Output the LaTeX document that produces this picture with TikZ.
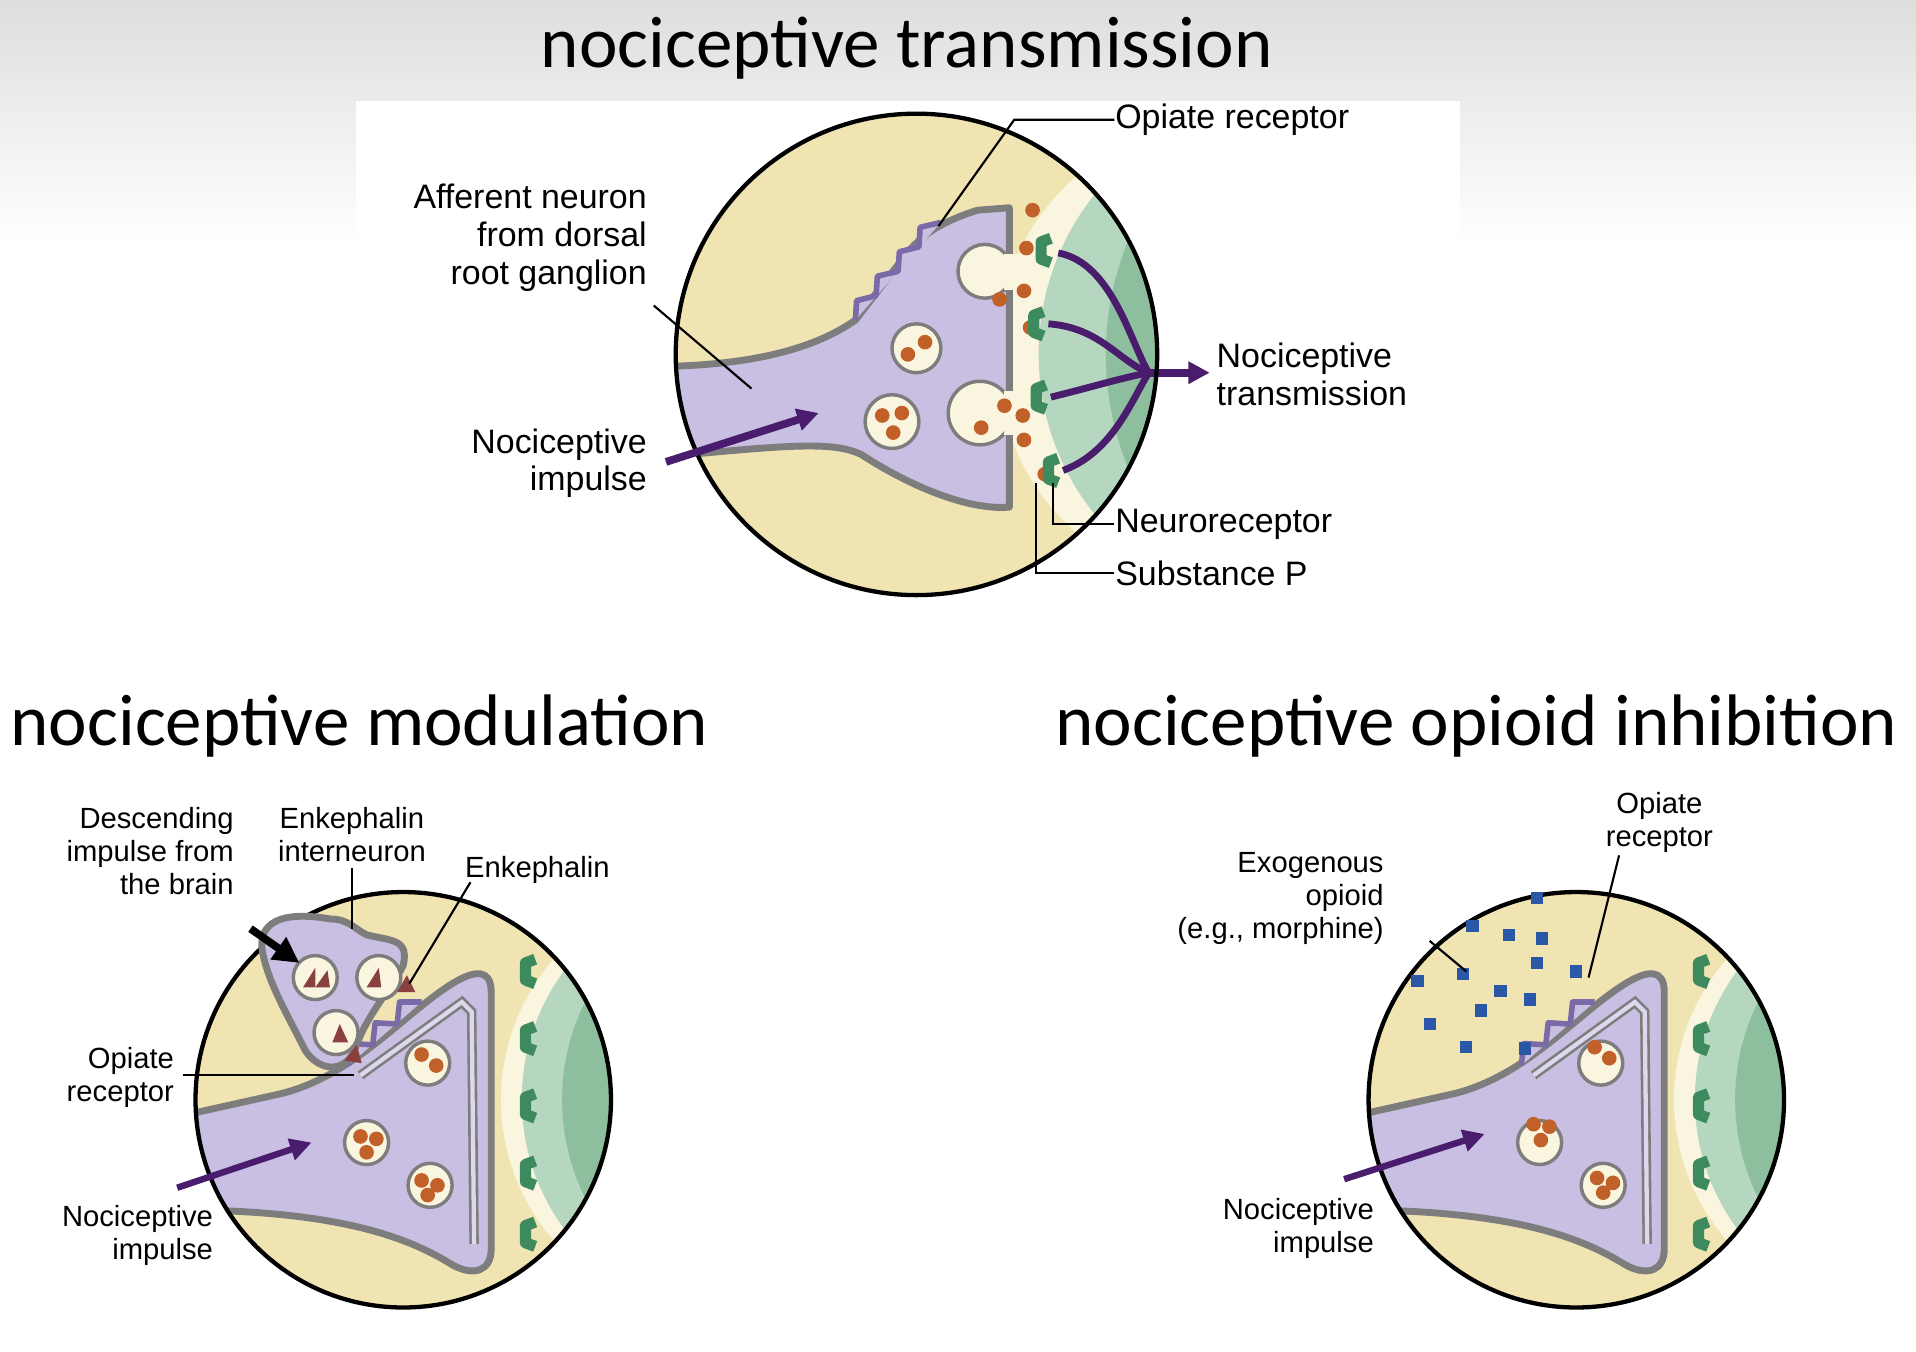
\documentclass[tikz,border=0pt]{standalone}
\usepackage{fontspec}
\setmainfont{Liberation Sans}
\newfontfamily\titlef{Carlito}
\usetikzlibrary{arrows.meta}
\definecolor{cream}{HTML}{F1E4B3}
\definecolor{lcream}{HTML}{FAF5DF}
\definecolor{purp}{HTML}{C8BFE2}
\definecolor{outl}{HTML}{7D7D7D}
\definecolor{gl}{HTML}{B5D7BF}
\definecolor{gd}{HTML}{8DBF9F}
\definecolor{recg}{HTML}{3D8A5F}
\definecolor{dotc}{HTML}{C2602A}
\definecolor{dpurp}{HTML}{4A1C6E}
\definecolor{tri}{HTML}{8B4040}
\definecolor{blu}{HTML}{2B58A6}
\definecolor{opic}{HTML}{7A6AA8}
\tikzset{
 ttl/.style={font=\titlef\fontsize{17}{20}\selectfont, inner sep=0},
 lab/.style={font=\fontsize{7.9}{8.8}\selectfont, inner sep=0},
 slab/.style={font=\fontsize{6.8}{7.7}\selectfont, inner sep=0},
 lead/.style={black, line width=0.5pt},
 neur/.style={fill=purp, draw=outl, line width=1.6pt, line join=round},
 ves/.style={fill=lcream, draw=outl, line width=0.8pt},
 rec/.style={draw=recg, line width=2.6pt, line join=round},
 opi/.style={draw=opic, fill=purp, line width=1.3pt, line join=round},
 imp/.style={dpurp, line width=1.5pt, -{Triangle[length=5pt,width=5pt]}},
}
\newcommand\dt[1]{\fill[dotc] #1 circle (6);}
\newcommand\rc[2]{\draw[rec] (#1+8,#2-10) -- (#1,#2-7) -- (#1,#2+7) -- (#1+8,#2+10);}
\newcommand\bsq[2]{\fill[blu] (#1-5,#2-5) rectangle (#1+5,#2+5);}
\newcommand\bottomsyn{%
 \begin{scope}
  \clip (0,0) circle (170);
  \fill[cream] (-200,-200) rectangle (200,200);
  \fill[lcream] (255,0) circle (175);
  \fill[gl] (275,0) circle (178);
  \fill[gd] (310,0) circle (180);
  \draw[neur] (-190,15) -- (-100,-5) .. controls (-40,-20) and (0,-70) .. (40,-95) .. controls (58,-106) and (72,-108) .. (72,-88) -- (72,122) .. controls (72,140) and (58,145) .. (40,135) .. controls (0,110) and (-60,90) .. (-190,90) -- cycle;
 \end{scope}
 \draw[outl, line width=2.2pt] (-35,-20) -- (48,-80) -- (56,-72) -- (58,118);
 \draw[purp!60!white, line width=1pt] (-35,-20) -- (48,-80) -- (56,-72) -- (58,118);
 \draw[opi] (-45,-28) -- (-43,-46) -- (-25,-45) -- (-23,-63) -- (-5,-62) -- (-3,-80) -- (15,-80);
 \foreach \p in {(20,-30),(-30,35),(22,70)} {\draw[ves] \p circle (18);}
 \foreach \y in {-105,-50,5,60,110} {\rc{100}{\y}}
 \draw[black, line width=1pt] (0,0) circle (170);
}
\begin{document}
\begin{tikzpicture}[x=0.1mm,y=-0.1mm]
\useasboundingbox (0,0) rectangle (1568,1106);
\fill[white] (0,0) rectangle (1568,1106);
\shade[top color=black!13, bottom color=white] (0,0) rectangle (1568,200);
\fill[white] (291,83) rectangle (1195,200);
% titles
\node[ttl, anchor=base] (t1) at (742,55) {nociceptive transmission};
\node[ttl, anchor=base west] (t2) at (8,610) {nociceptive modulation};
\node[ttl, anchor=base west] (t3) at (863,610) {nociceptive opioid inhibition};
% ===== top circle
\begin{scope}
 \clip (750,290) circle (197);
 \fill[cream] (540,80) rectangle (960,500);
 \fill[lcream] (1010,290) circle (195);
 \fill[gl] (1060,290) circle (210);
 \fill[gd] (1150,290) circle (245);
 \draw[neur] (530,300) .. controls (600,300) and (660,290) .. (700,262) -- (740,210) .. controls (755,190) and (775,180) .. (800,172) -- (826,170) -- (826,415) .. controls (790,418) and (740,395) .. (705,372) .. controls (680,360) and (640,365) .. (530,375) -- cycle;
 \draw[ves] (806,222) circle (22);
 \draw[ves] (802,338) circle (26);
 \fill[lcream] (822,208) rectangle (836,237);
 \fill[lcream] (822,320) rectangle (836,356);
\end{scope}
\draw[opi] (700,262) -- (701,246) -- (717,242) -- (718,226) -- (735,222) -- (736,206) -- (752,202) -- (753,186) -- (770,182);
\draw[ves] (750,285) circle (20); \dt{(743,290)} \dt{(757,280)}
\draw[ves] (730,345) circle (22); \dt{(722,340)} \dt{(738,338)} \dt{(731,354)}
\foreach \p in {(845,172),(840,203),(818,245),(838,238),(843,268),(822,332),(803,350),(837,340),(838,360),(855,388)} {\dt{\p}}
\coordinate (hub) at (940,305);
\draw[dpurp, line width=1.6pt] (866,207) .. controls (910,215) and (925,280) .. (hub);
\draw[dpurp, line width=1.6pt] (858,265) .. controls (900,268) and (915,295) .. (hub);
\draw[dpurp, line width=1.6pt] (860,325) .. controls (900,315) and (915,310) .. (hub);
\draw[dpurp, line width=1.6pt] (870,385) .. controls (910,370) and (925,330) .. (hub);
\draw[imp, line width=1.8pt] (hub) -- (990,305);
\rc{852}{205}\rc{846}{265}\rc{848}{325}\rc{858}{385}
\draw[black, line width=1pt] (750,290) circle (197);
\draw[imp, line width=1.8pt] (545,378) -- (670,338);
% top labels
\node[lab, anchor=west] (or) at (912,98) {Opiate receptor};
\draw[lead] (768,185) -- (830,98) -- (or.west);
\node[lab, anchor=north east, align=right] (aff) at (530,150) {Afferent neuron\\from dorsal\\root ganglion};
\draw[lead] (535,250) -- (615,318);
\node[lab, anchor=north east, align=right] (ni) at (530,350) {Nociceptive\\impulse};
\node[lab, anchor=north west, align=left] (nt) at (995,280) {Nociceptive\\transmission};
\node[lab, anchor=west] (nr) at (912,429) {Neuroreceptor};
\draw[lead] (862,395) -- (862,429) -- (nr.west);
\node[lab, anchor=west] (sp) at (912,469) {Substance P};
\draw[lead] (848,395) -- (848,469) -- (sp.west);
% ===== bottom left
\begin{scope}[shift={(330,900)}]\bottomsyn\end{scope}
\dt{(345,863)}\dt{(357,872)}
\dt{(295,930)}\dt{(308,932)}\dt{(300,943)}
\dt{(345,966)}\dt{(358,970)}\dt{(350,978)}
\draw[neur] (215,780) .. controls (210,755) and (230,745) .. (270,752) .. controls (285,752) and (290,760) .. (300,765) .. controls (320,770) and (335,768) .. (330,790) .. controls (320,810) and (300,830) .. (290,860) .. controls (280,880) and (260,875) .. (250,860) .. controls (235,830) and (220,805) .. (215,780) -- cycle;
\draw[ves] (258,800) circle (18); \draw[ves] (310,800) circle (18); \draw[ves] (275,845) circle (18);
\fill[tri] (248,808) -- (258,792) -- (258,808) -- cycle; \fill[tri] (258,808) -- (268,794) -- (270,808) -- cycle;
\fill[tri] (300,808) -- (310,792) -- (312,808) -- cycle;
\fill[tri] (272,853) -- (278,838) -- (285,853) -- cycle;
\fill[tri] (282,868) -- (292,855) -- (296,870) -- cycle;
\fill[tri] (325,812) -- (333,798) -- (340,812) -- cycle;
\draw[black, line width=1.8pt, -{Triangle[length=6pt,width=6pt]}] (205,760) -- (245,788);
\node[slab, anchor=north east, align=right] (desc) at (192,660) {Descending\\impulse from\\the brain};
\node[slab, anchor=north, align=center] (ei) at (288,660) {Enkephalin\\interneuron};
\draw[lead] (288,710) -- (288,760);
\node[slab, anchor=north west] (enk) at (380,700) {Enkephalin};
\draw[lead] (385,722) -- (335,805);
\node[slab, anchor=north east, align=right] (or2) at (143,856) {Opiate\\receptor};
\draw[lead] (150,880) -- (290,880);
\node[slab, anchor=north east, align=right] (ni2) at (175,986) {Nociceptive\\impulse};
\draw[imp] (145,972) -- (255,935);
% ===== bottom right
\begin{scope}[shift={(1290,900)}]\bottomsyn\end{scope}
\dt{(1305,857)}\dt{(1317,866)}
\dt{(1255,920)}\dt{(1268,922)}\dt{(1261,933)}
\dt{(1307,964)}\dt{(1320,968)}\dt{(1312,976)}
\foreach \p/\q in {1258/735,1205/758,1235/765,1262/768,1160/803,1197/797,1228/811,1258/788,1290/795,1252/818,1170/838,1212/827,1200/857,1248/858} {\bsq{\p}{\q}}
\node[slab, anchor=north, align=center] (or3) at (1358,648) {Opiate\\receptor};
\draw[lead] (1325,700) -- (1300,800);
\node[slab, anchor=north east, align=right] (exo) at (1133,697) {Exogenous\\opioid\\(e.g., morphine)};
\draw[lead] (1170,770) -- (1200,795);
\node[slab, anchor=north east, align=right] (ni3) at (1125,980) {Nociceptive\\impulse};
\draw[imp] (1100,965) -- (1215,928);
\end{tikzpicture}
\end{document}
